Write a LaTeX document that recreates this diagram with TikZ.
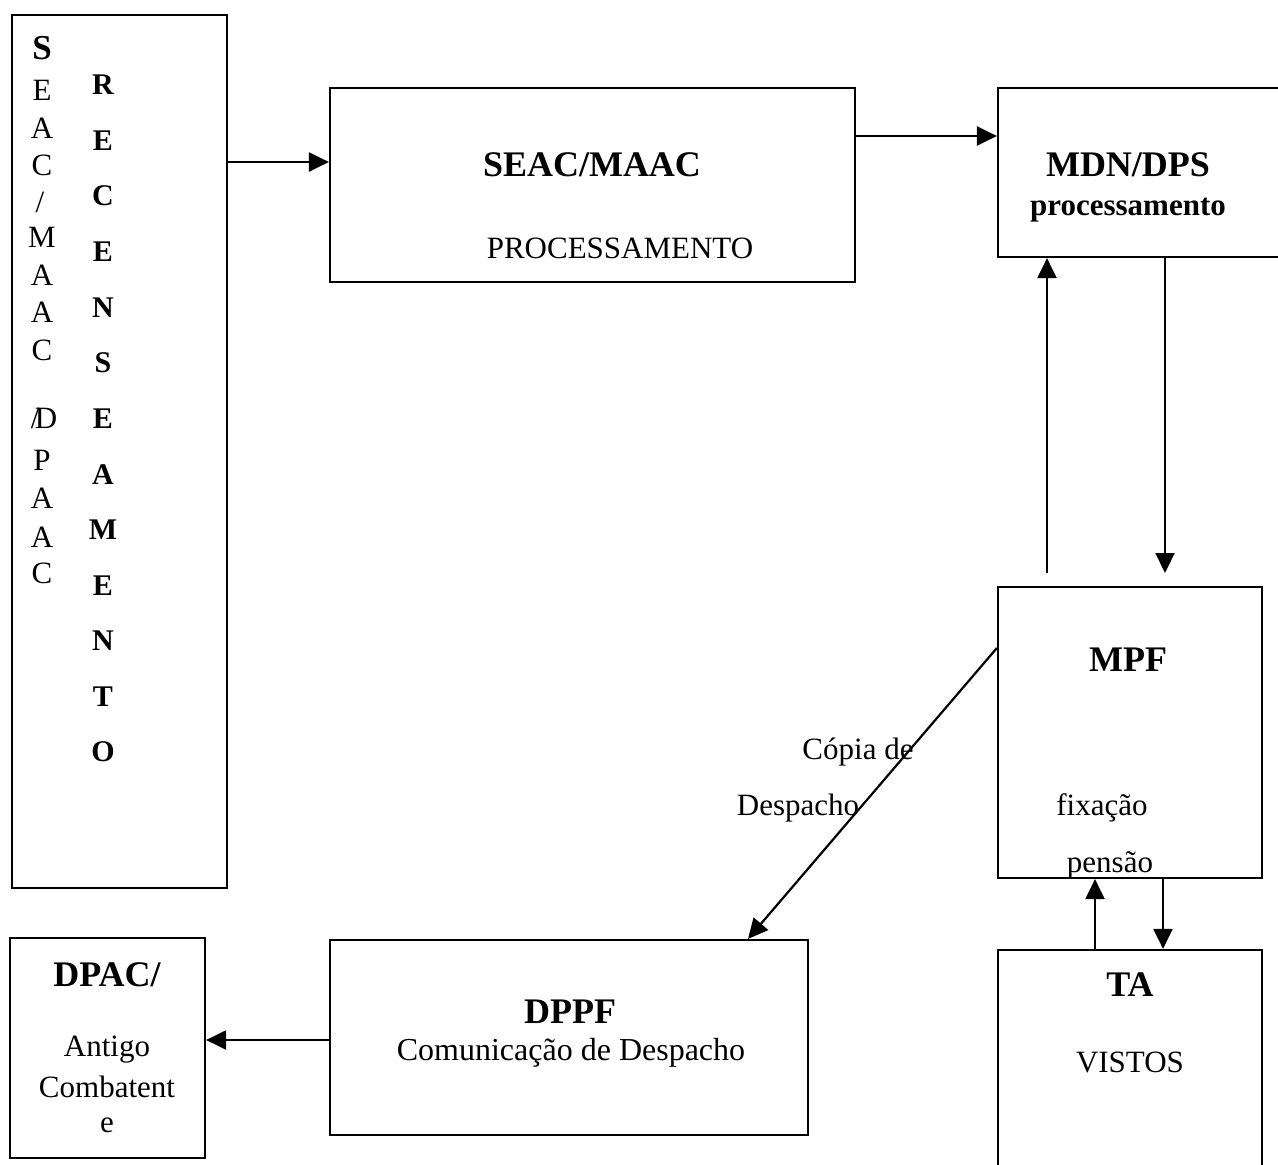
\documentclass[tikz,border=0pt]{standalone}
\usepackage{fontspec}
\setmainfont{Liberation Serif}
\usetikzlibrary{arrows.meta}
\begin{document}
\begin{tikzpicture}[x=1pt,y=-1pt,
  box/.style={draw, line width=2.2pt, inner sep=0pt, anchor=center},
  reg/.style={font=\fontsize{31}{35}\selectfont, inner sep=0pt},
  hd/.style={font=\fontsize{36}{40}\selectfont\bfseries, inner sep=0pt},
  col/.style={font=\fontsize{30}{34}\selectfont\bfseries, inner sep=0pt},
  arr/.style={line width=2.2pt, -{Triangle[length=20pt,width=19pt]}}]
\useasboundingbox (0,0) rectangle (1278,1165);
\clip (0,0) rectangle (1278,1165);
\fill[white] (0,0) rectangle (1278,1165);

% boxes
\node[box, minimum width=215pt, minimum height=873pt] (L) at (119.5,451.5) {};
\node[box, minimum width=525pt, minimum height=194pt] (SM) at (592.5,185) {};
\node[box, minimum width=292pt, minimum height=169pt] (MDN) at (1144,172.5) {};
\node[box, minimum width=264pt, minimum height=291pt] (MPF) at (1130,732.5) {};
\node[box, minimum width=264pt, minimum height=230pt] (TA) at (1130,1065) {};
\node[box, minimum width=195pt, minimum height=220pt] (DPAC) at (107.5,1048) {};
\node[box, minimum width=478pt, minimum height=195pt] (DPPF) at (569,1037.5) {};

% left column text
\node[hd, font=\fontsize{35}{38}\selectfont\bfseries] (ls0) at (42,48) {S};
\foreach \t/\yy [count=\i] in {E/90, A/128, C/165, M/237, A/275, A/312, C/350, P/460, A/498, A/537, C/573}
  \node[reg] (ls\i) at (42,\yy) {\t};
\node[reg] (lsSl) at (40,202) {/};
\node[reg] (lsD) at (46,418) {\makebox[0pt][l]{\kern-4pt/}D};

% right column text
\foreach \t [count=\i from 0] in {R,E,C,E,N,S,E,A,M,E,N,T,O}
  \node[col] (rc\i) at (103,{85+55.6*\i}) {\t};

% box texts
\node[hd] (tSM) at (592,165) {SEAC/MAAC};
\node[reg] (tSM2) at (620,248) {PROCESSAMENTO};
\node[hd] (tMDN) at (1128,165) {MDN/DPS};
\node[reg, font=\fontsize{31}{35}\selectfont\bfseries] (tMDN2) at (1128,210) {processamento};
\node[hd] (tMPF) at (1128,660) {MPF};
\node[reg] (tfix) at (1102,808) {fixação};
\node[reg] (tpen) at (1110,865) {pensão};
\node[hd] (tTA) at (1130,985) {TA};
\node[reg] (tVIS) at (1130,1062) {VISTOS};
\node[hd] (tDPPF) at (570,1012) {DPPF};
\node[reg, font=\fontsize{32}{36}\selectfont] (tDPPF2) at (571,1053) {Comunicação de Despacho};
\node[hd] (tDPAC) at (107,975) {DPAC/};
\node[reg] (tDPAC2) at (107,1050) {Antigo};
\node[reg] (tDPAC3) at (107,1087) {Combatent};
\node[reg] (tDPAC4) at (107,1125) {e};
\node[reg] (tcop) at (858,752) {Cópia de};
\node[reg] (tdes) at (798,808) {Despacho};

% connectors
\coordinate (mpfR) at (1165,573);
\coordinate (mpfL) at (1047,573);
\draw[arr] (L.east |- 0,162) -- (SM.west |- 0,162);
\draw[arr] (SM.east |- 0,136) -- (MDN.west |- 0,136);
\draw[arr] (MDN.south -| mpfR) -- (mpfR);
\draw[arr] (mpfL) -- (MDN.south -| mpfL);
\draw[arr] (MPF.west |- 0,648) -- (DPPF.north -| 748,0);
\draw[arr] (TA.north -| 1095,0) -- (MPF.south -| 1095,0);
\draw[arr] (MPF.south -| 1163,0) -- (TA.north -| 1163,0);
\draw[arr] (DPPF.west |- 0,1040) -- (DPAC.east |- 0,1040);
\end{tikzpicture}
\end{document}
